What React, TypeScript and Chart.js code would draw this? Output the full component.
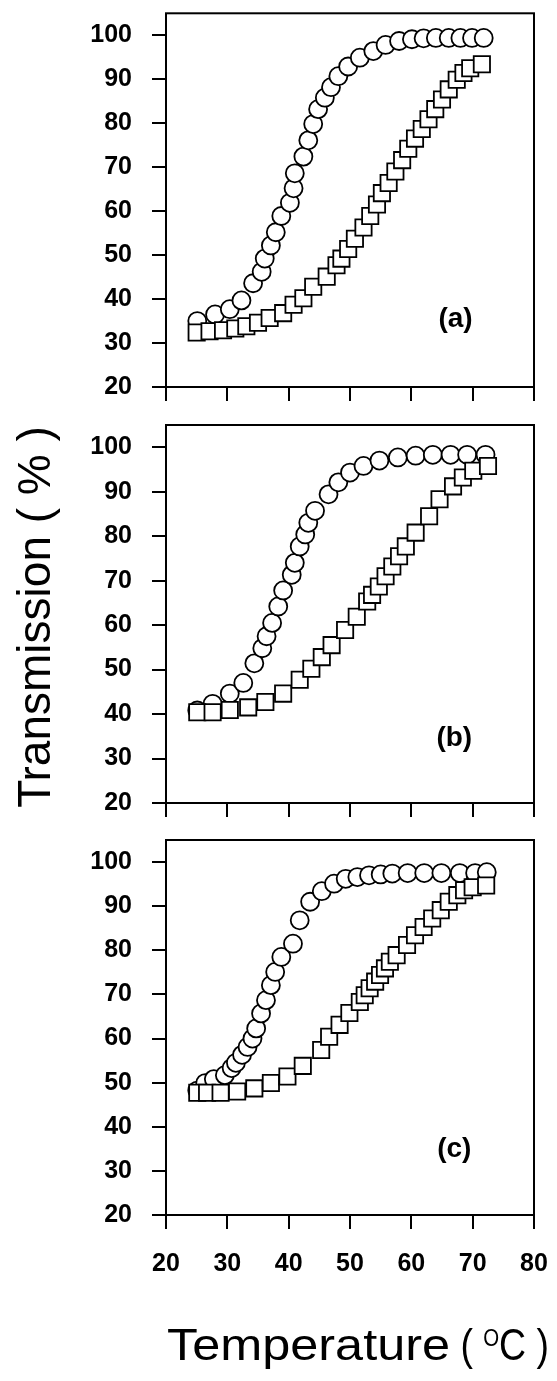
import React, { useEffect, useRef } from 'react';
import { Chart, registerables } from 'chart.js';

Chart.register(...registerables);

// ---------- data ----------
const xTicks = [20, 30, 40, 50, 60, 70, 80];
const yTicks = [20, 30, 40, 50, 60, 70, 80, 90, 100];
const panelLabels = ['(a)', '(b)', '(c)'];

// panel (a)
const aCircleT = [25.1, 28.0, 30.4, 32.3, 34.2, 35.6, 36.1, 37.1, 37.9, 38.8, 40.2, 40.8, 41.0, 42.4, 43.2, 44.0, 44.8, 45.9, 46.9, 48.1, 49.7, 51.6, 53.8, 55.8, 58.0, 60.1, 62.0, 64.0, 66.1, 68.0, 69.9, 71.8];
const aCircleY = [35.0, 36.5, 37.7, 39.7, 43.6, 46.2, 49.2, 52.2, 55.2, 58.9, 61.9, 65.2, 68.6, 72.4, 76.1, 79.8, 83.2, 85.8, 88.2, 90.7, 92.9, 94.9, 96.4, 97.8, 98.7, 99.1, 99.3, 99.4, 99.4, 99.4, 99.4, 99.4];
const aSquareT = [25.0, 27.1, 29.3, 31.3, 33.1, 35.0, 36.9, 39.1, 40.8, 42.4, 44.0, 46.2, 47.8, 48.6, 49.7, 50.8, 52.2, 53.3, 54.4, 55.2, 56.3, 57.4, 58.5, 59.5, 60.6, 61.7, 62.8, 63.9, 65.0, 66.1, 67.4, 68.5, 69.6, 71.5];
const aSquareY = [32.4, 32.7, 32.9, 33.3, 33.8, 34.6, 35.7, 36.8, 38.7, 40.2, 42.8, 45.1, 47.7, 49.2, 51.4, 53.7, 56.3, 58.9, 61.5, 64.1, 66.4, 69.0, 71.6, 74.2, 76.5, 78.7, 80.9, 83.2, 85.4, 87.7, 89.9, 91.4, 92.5, 93.4];

// panel (b)
const bCircleT = [25.1, 27.6, 30.4, 32.6, 34.4, 35.7, 36.4, 37.3, 38.3, 39.1, 40.5, 41.0, 41.8, 42.7, 43.2, 44.3, 46.5, 48.1, 50.0, 52.2, 54.8, 57.8, 60.7, 63.5, 66.4, 69.1, 72.1];
const bCircleY = [40.8, 42.3, 44.6, 47.0, 51.4, 54.8, 57.5, 60.5, 64.2, 67.8, 71.3, 74.0, 77.7, 80.4, 83.0, 85.7, 89.4, 92.1, 94.3, 95.8, 97.0, 97.7, 98.1, 98.3, 98.3, 98.3, 98.3];
const bSquareT = [25.1, 27.6, 30.4, 33.4, 36.2, 39.1, 41.8, 43.7, 45.4, 47.0, 49.2, 51.1, 52.8, 53.6, 54.7, 55.8, 56.9, 58.0, 59.1, 60.7, 62.9, 64.6, 66.8, 68.4, 70.1, 72.5];
const bSquareY = [40.4, 40.4, 40.9, 41.5, 42.7, 44.6, 47.7, 50.2, 52.8, 55.5, 58.9, 61.9, 65.3, 66.8, 68.7, 71.0, 73.2, 75.5, 77.7, 80.8, 84.5, 88.3, 91.2, 93.2, 94.7, 95.8];

// panel (c)
const cCircleT = [25.1, 26.4, 27.8, 29.6, 30.7, 31.4, 32.4, 33.3, 34.1, 34.7, 35.5, 36.3, 37.1, 37.8, 38.8, 40.7, 41.8, 43.5, 45.4, 47.4, 49.3, 51.2, 53.1, 55.0, 56.9, 59.4, 62.1, 64.9, 67.9, 70.4, 72.3];
const cCircleY = [48.2, 49.9, 50.8, 51.7, 53.3, 54.5, 56.3, 58.1, 60.0, 62.3, 65.7, 68.7, 72.1, 75.1, 78.5, 81.5, 86.8, 91.0, 93.4, 95.1, 96.2, 96.6, 97.0, 97.2, 97.4, 97.5, 97.5, 97.5, 97.5, 97.5, 97.7];
const cSquareT = [25.1, 26.7, 28.9, 31.6, 34.4, 37.1, 39.8, 42.3, 45.3, 46.6, 48.3, 49.9, 51.6, 52.4, 53.2, 54.1, 54.9, 55.7, 56.5, 57.6, 59.3, 60.6, 62.0, 63.4, 64.8, 66.1, 67.5, 68.6, 70.0, 72.2];
const cSquareY = [47.7, 47.7, 47.7, 48.0, 48.7, 49.9, 51.4, 53.8, 57.4, 60.4, 63.1, 65.8, 68.3, 69.8, 71.4, 72.9, 74.4, 75.9, 77.4, 78.9, 81.2, 83.4, 85.3, 87.2, 89.1, 91.0, 92.5, 93.6, 94.3, 94.7];

// panel label anchors in data units
const labelT = [67.2, 67.0, 67.0];
const labelY = [35.4, 34.5, 34.8];

const yTitle = 'Transmission ( % )';
const xTitleMain = 'Temperature';

// ---------- layout ----------
const W = 557;
const panelTop = [0, 410, 820];
const panelH = [410, 410, 561];
const padTop = [8, 15, 20];
const xAxisH = [23, 17, 166];
const Y_AXIS_W = 166;
const PAD_RIGHT = 23;
const FONT = '"Liberation Sans", Arial, Helvetica, sans-serif';

const toPts = (xs: number[], ys: number[]) => xs.map((x, i) => ({ x, y: ys[i] }));

const panelData = [
  { circ: toPts(aCircleT, aCircleY), sq: toPts(aSquareT, aSquareY) },
  { circ: toPts(bCircleT, bCircleY), sq: toPts(bSquareT, bSquareY) },
  { circ: toPts(cCircleT, cCircleY), sq: toPts(cSquareT, cSquareY) },
];

const framePlugin = {
  id: 'frame',
  beforeDatasetsDraw(chart: any) {
    const { ctx, chartArea: a } = chart;
    ctx.save();
    ctx.strokeStyle = '#000';
    ctx.lineWidth = 2;
    ctx.strokeRect(a.left, a.top, a.right - a.left, a.bottom - a.top);
    ctx.restore();
  },
};

function makeLabelPlugin(idx: number) {
  return {
    id: 'panelLabel' + idx,
    afterDraw(chart: any) {
      const { ctx, scales } = chart;
      const px = scales.x.getPixelForValue(labelT[idx]);
      const py = scales.y.getPixelForValue(labelY[idx]);
      ctx.save();
      ctx.fillStyle = '#000';
      ctx.font = `bold 28px ${FONT}`;
      ctx.textAlign = 'center';
      ctx.textBaseline = 'middle';
      ctx.fillText(panelLabels[idx], px, py);

      if (idx === 1) {
        // shared y-axis title
        ctx.font = `46px ${FONT}`;
        ctx.textAlign = 'center';
        ctx.textBaseline = 'alphabetic';
        ctx.translate(50, 207);
        ctx.rotate(-Math.PI / 2);
        ctx.fillText(yTitle, 0, 0);
      }
      if (idx === 2) {
        const a = chart.chartArea;
        const base = 540;
        const start = a.left + 1;
        const mid = 450;
        const end = 549;
        ctx.textAlign = 'left';
        ctx.textBaseline = 'alphabetic';
        ctx.font = `44px ${FONT}`;
        const w1 = ctx.measureText(xTitleMain).width;
        ctx.save();
        ctx.translate(start, base);
        ctx.scale((mid - start) / w1, 1);
        ctx.fillText(xTitleMain, 0, 0);
        ctx.restore();
        // " ( OC )" with superscript O
        const wA = ctx.measureText(' ( ').width;
        const wC = ctx.measureText('C )').width;
        ctx.font = `24px ${FONT}`;
        const wO = ctx.measureText('O').width;
        const s2 = (end - mid) / (wA + wO + wC);
        ctx.save();
        ctx.translate(mid, base);
        ctx.scale(s2, 1);
        ctx.font = `44px ${FONT}`;
        ctx.fillText(' ( ', 0, 0);
        ctx.font = `24px ${FONT}`;
        ctx.fillText('O', wA, -14);
        ctx.font = `44px ${FONT}`;
        ctx.fillText('C )', wA + wO, 0);
        ctx.restore();
      }
      ctx.restore();
    },
  };
}

function makeConfig(idx: number): any {
  const d = panelData[idx];
  const gridCfg = {
    display: true,
    drawOnChartArea: false,
    drawTicks: true,
    tickLength: 14,
    color: '#000',
    lineWidth: 2,
  };
  return {
    type: 'scatter',
    data: {
      datasets: [
        {
          label: 'Squares',
          data: d.sq,
          pointStyle: 'rect',
          pointRadius: 11.5,
          backgroundColor: '#fff',
          borderColor: '#000',
          borderWidth: 1.8,
          order: 0,
          clip: false,
        },
        {
          label: 'Circles',
          data: d.circ,
          pointStyle: 'circle',
          pointRadius: 9,
          backgroundColor: '#fff',
          borderColor: '#000',
          borderWidth: 1.8,
          order: 1,
          clip: false,
        },
      ],
    },
    options: {
      animation: false,
      responsive: false,
      maintainAspectRatio: false,
      events: [],
      layout: { padding: { left: 0, right: PAD_RIGHT, top: padTop[idx], bottom: 0 } },
      plugins: { legend: { display: false }, tooltip: { enabled: false }, title: { display: false } },
      scales: {
        x: {
          type: 'linear',
          min: 20,
          max: 80,
          afterBuildTicks: (s: any) => {
            s.ticks = xTicks.map((v) => ({ value: v }));
          },
          afterFit: (s: any) => {
            s.height = xAxisH[idx];
            s.paddingLeft = 0;
            s.paddingRight = 0;
            s.paddingTop = 0;
            s.paddingBottom = 0;
          },
          grid: gridCfg,
          border: { display: false },
          ticks: {
            display: idx === 2,
            color: '#000',
            font: { family: FONT, size: 25, weight: 'bold' },
            padding: 20,
            maxRotation: 0,
            autoSkip: false,
          },
        },
        y: {
          type: 'linear',
          min: 20,
          max: 105,
          afterBuildTicks: (s: any) => {
            s.ticks = yTicks.map((v) => ({ value: v }));
          },
          afterFit: (s: any) => {
            s.width = Y_AXIS_W;
            s.paddingLeft = 0;
            s.paddingRight = 0;
            s.paddingTop = 0;
            s.paddingBottom = 0;
          },
          grid: gridCfg,
          border: { display: false },
          ticks: {
            color: '#000',
            font: { family: FONT, size: 25, weight: 'bold' },
            padding: 20,
            autoSkip: false,
          },
        },
      },
    },
    plugins: [framePlugin, makeLabelPlugin(idx)],
  };
}

function Panel({ idx }: { idx: number }) {
  const ref = useRef<HTMLCanvasElement | null>(null);
  useEffect(() => {
    if (!ref.current) return;
    const chart = new Chart(ref.current, makeConfig(idx));
    return () => chart.destroy();
  }, [idx]);
  return (
    <canvas
      ref={ref}
      width={W}
      height={panelH[idx]}
      style={{ position: 'absolute', left: 0, top: panelTop[idx], width: W, height: panelH[idx], display: 'block' }}
    />
  );
}

export default function App() {
  return (
    <div style={{ position: 'absolute', left: 0, top: 0, width: W, height: 1381, background: '#fff' }}>
      <Panel idx={0} />
      <Panel idx={1} />
      <Panel idx={2} />
    </div>
  );
}
